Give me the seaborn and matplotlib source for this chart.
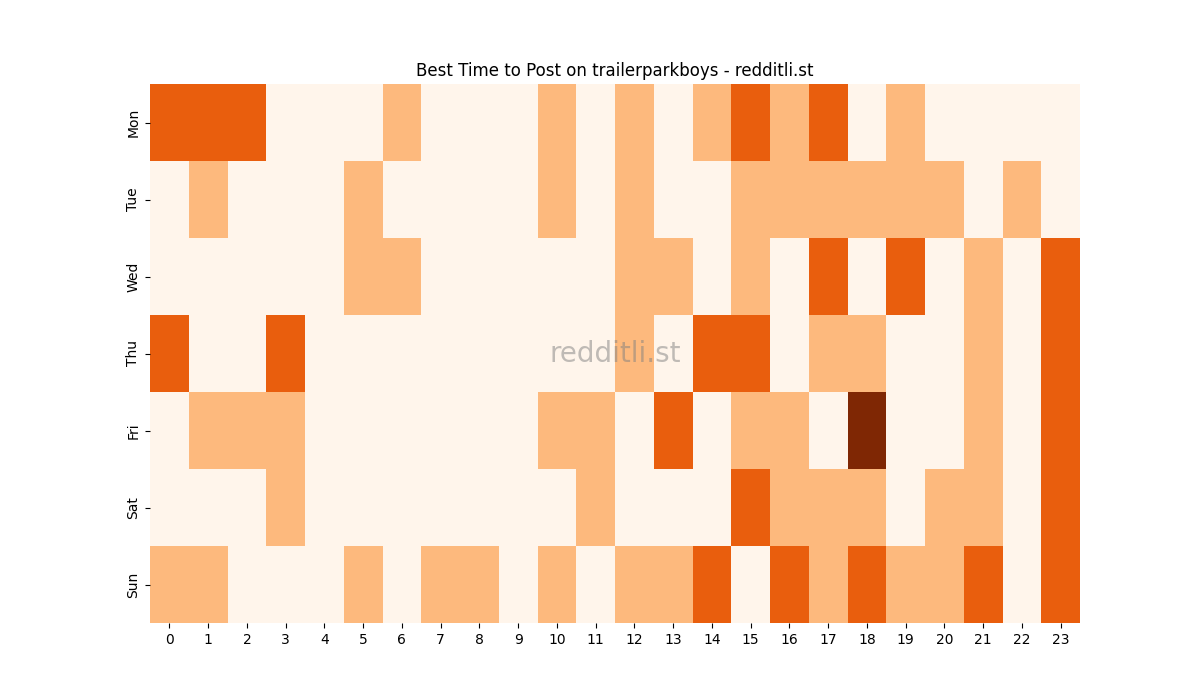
import matplotlib
matplotlib.use("Agg")
import matplotlib.pyplot as plt
import seaborn as sns
import pandas as pd

days = ["Mon", "Tue", "Wed", "Thu", "Fri", "Sat", "Sun"]
hours = list(range(24))
mon = [2,2,2,0,0,0,1,0,0,0,1,0,1,0,1,2,1,2,0,1,0,0,0,0]
tue = [0,1,0,0,0,1,0,0,0,0,1,0,1,0,0,1,1,1,1,1,1,0,1,0]
wed = [0,0,0,0,0,1,1,0,0,0,0,0,1,1,0,1,0,2,0,2,0,1,0,2]
thu = [2,0,0,2,0,0,0,0,0,0,0,0,1,0,2,2,0,1,1,0,0,1,0,2]
fri = [0,1,1,1,0,0,0,0,0,0,1,1,0,2,0,1,1,0,3,0,0,1,0,2]
sat = [0,0,0,1,0,0,0,0,0,0,0,1,0,0,0,2,1,1,1,0,1,1,0,2]
sun = [1,1,0,0,0,1,0,1,1,0,1,0,1,1,2,0,2,1,2,1,1,2,0,2]

df = pd.DataFrame([mon, tue, wed, thu, fri, sat, sun], index=days, columns=hours)

fig, ax = plt.subplots(figsize=(12, 7), dpi=100)
sns.heatmap(df, cmap="Oranges", cbar=False, ax=ax, vmin=0, vmax=3)
ax.set_title("Best Time to Post on trailerparkboys - redditli.st")
ax.text(0.5, 0.5, "redditli.st", transform=ax.transAxes, ha="center", va="center",
        fontsize=20, color="gray", alpha=0.5)
fig.savefig("out.png")
